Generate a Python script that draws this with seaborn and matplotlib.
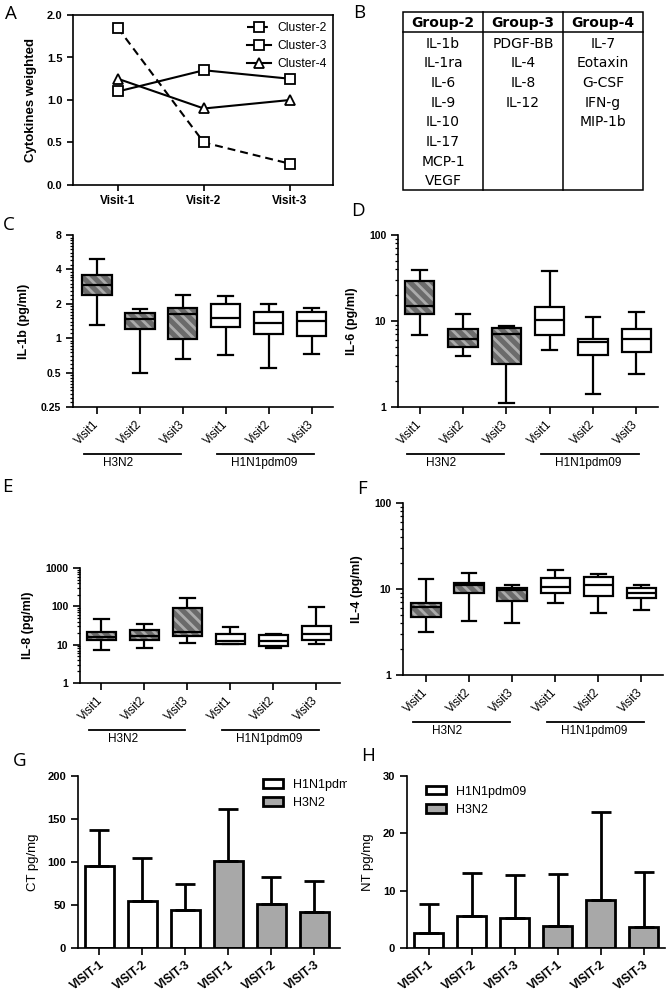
import numpy as np
import pandas as pd
import matplotlib
matplotlib.use("Agg")
import matplotlib.pyplot as plt
import matplotlib.ticker as mticker
from matplotlib.colors import to_rgba
from matplotlib.patches import Rectangle
from matplotlib.transforms import offset_copy, Bbox, TransformedBbox, ScaledTranslation
import seaborn as sns

# ---- panel A data
visits_a = ["Visit-1", "Visit-2", "Visit-3"]
cluster_names = ["Cluster-2", "Cluster-3", "Cluster-4"]
cluster2 = [1.85, 0.50, 0.25]
cluster3 = [1.10, 1.35, 1.25]
cluster4 = [1.25, 0.90, 1.00]

# ---- panel B table
group_names = ["Group-2", "Group-3", "Group-4"]
group2 = ["IL-1b", "IL-1ra", "IL-6", "IL-9", "IL-10", "IL-17", "MCP-1", "VEGF"]
group3 = ["PDGF-BB", "IL-4", "IL-8", "IL-12"]
group4 = ["IL-7", "Eotaxin", "G-CSF", "IFN-g", "MIP-1b"]

# ---- box plots (min, Q1, median, Q3, max) per box
strains = ["H3N2", "H1N1pdm09"]
box_strains = ["H3N2"] * 3 + ["H1N1pdm09"] * 3
visit_labels = ["Visit1", "Visit2", "Visit3", "Visit1", "Visit2", "Visit3"]
il1b = [[1.3, 2.4, 2.95, 3.6, 4.9], [0.5, 1.21, 1.46, 1.66, 1.79], [0.66, 0.99, 1.62, 1.85, 2.4],
        [0.72, 1.25, 1.51, 1.98, 2.35], [0.55, 1.08, 1.36, 1.69, 2.01], [0.73, 1.04, 1.41, 1.69, 1.82]]
il6 = [[6.8, 12.0, 14.9, 29.4, 39.0], [3.9, 5.0, 6.2, 8.0, 12.1], [1.11, 3.2, 7.0, 8.4, 8.7],
       [4.6, 6.8, 10.4, 14.6, 37.7], [1.43, 4.0, 5.7, 6.2, 11.2], [2.4, 4.4, 6.25, 8.0, 12.8]]
il8 = [[7.2, 12.9, 16.3, 21.4, 46.0], [8.1, 13.3, 17.2, 24.8, 34.0], [11.2, 16.8, 22.0, 88.0, 162.0],
       [10.3, 10.7, 12.8, 18.7, 29.7], [8.1, 9.1, 12.8, 17.5, 19.2], [10.7, 13.5, 19.2, 30.4, 94.0]]
il4 = [[3.2, 4.7, 6.1, 6.8, 13.2], [4.2, 9.0, 11.0, 11.9, 15.5], [4.0, 7.3, 9.7, 10.3, 11.2],
       [6.8, 9.0, 10.5, 13.3, 16.5], [5.3, 8.4, 11.2, 13.7, 14.9], [5.7, 7.9, 9.0, 10.3, 11.2]]

# ---- bar charts (mean, top of error bar)
bar_strains = ["H1N1pdm09"] * 3 + ["H3N2"] * 3
bar_labels = ["VISIT-1", "VISIT-2", "VISIT-3", "VISIT-1", "VISIT-2", "VISIT-3"]
ct_mean = [95, 55, 44, 101, 51, 42]
ct_top = [137, 105, 75, 162, 82, 78]
nt_mean = [2.7, 5.5, 5.2, 3.9, 8.3, 3.7]
nt_top = [7.7, 13.0, 12.7, 12.9, 23.7, 13.2]

DARK = "#6b6b6b"
HATCH = "#ababab"
BAR_GREY = "#a8a8a8"

plt.rcParams["font.family"] = ["Liberation Sans", "DejaVu Sans"]
plt.rcParams["hatch.linewidth"] = 2.0
plt.rcParams["axes.linewidth"] = 1.2

W, H = 671, 999
fig = plt.figure(figsize=(W / 100, H / 100), dpi=100)


def rect(l, t, r, b):
    return [l / W, 1 - b / H, (r - l) / W, (b - t) / H]


def letter(x, y, s):
    fig.text(x / W, 1 - y / H, s, ha="center", va="center", fontsize=13.5,
             family=["Open Sans", "DejaVu Sans"])


# ================= A
ax = fig.add_axes(rect(73, 15, 333, 185))
styles = [(0, (3.8, 2.4)), "-", "-"]
markers = ["s", "s", "^"]
for name, vals, ls, mk in zip(cluster_names, [cluster2, cluster3, cluster4], styles, markers):
    sns.lineplot(x=visits_a, y=vals, ax=ax, color="black", linestyle=ls, marker=mk,
                 markersize=7, markerfacecolor="white", markeredgecolor="black",
                 markeredgewidth=1.3, linewidth=1.5, label=name, sort=False)
ax.set_xlim(-0.52, 2.5)
ax.set_ylim(0, 2.0)
ax.set_yticks([0, 0.5, 1.0, 1.5, 2.0], ["0.0", "0.5", "1.0", "1.5", "2.0"], fontweight="bold")
ax.set_xticks([0, 1, 2], visits_a, fontweight="bold", fontsize=8.5)
ax.tick_params(direction="out", length=4, width=1.2, labelsize=8)
ax.tick_params(axis="x", labelsize=8.5)
ax.set_ylabel("Cytokines weighted", fontweight="bold", fontsize=9.5, labelpad=7)
ax.set_xlabel("")
ax.legend(handles=ax.get_lines()[:3], labels=cluster_names, frameon=False, loc="upper left",
          bbox_to_anchor=(0.645, 0.995), borderpad=0, fontsize=8.7, labelspacing=0.5,
          handlelength=2.0, handletextpad=0.5)
letter(11, 14, "A")

# ================= B
axb = fig.add_axes(rect(403, 12, 643, 190))
axb.set_xlim(0, 240)
axb.set_ylim(178, 0)
axb.axis("off")
axb.add_patch(Rectangle((0, 0), 240, 178, fill=False, lw=1.1, ec="black", clip_on=False))
axb.plot([0, 240], [20, 20], color="black", lw=1.1, clip_on=False)
for xc in [80, 160]:
    axb.plot([xc, xc], [0, 178], color="black", lw=1.1, clip_on=False)
for i, (gname, items) in enumerate(zip(group_names, [group2, group3, group4])):
    cx = 40 + 80 * i
    axb.text(cx, 11, gname, ha="center", va="center", fontsize=10, fontweight="bold",
             family="DejaVu Sans")
    for j, it in enumerate(items):
        axb.text(cx, 31.5 + 19.7 * j, it, ha="center", va="center", fontsize=10,
                 family="DejaVu Sans")
letter(359, 13, "B")


# ================= box panels
def box_panel(box, values, base, ylim, majors, major_labels, minors, ylabel, xlim):
    ax = fig.add_axes(rect(*box))
    keys = [f"{s} {v}" for s, v in zip(box_strains, visit_labels)]
    df = pd.DataFrame({
        "box": np.repeat(keys, 5),
        "strain": np.repeat(box_strains, 5),
        "value": np.concatenate(values),
    })
    sns.boxplot(data=df, x="box", y="value", hue="strain", order=keys, hue_order=strains,
                palette={"H3N2": DARK, "H1N1pdm09": "white"}, dodge=False, width=0.68,
                whis=(0, 100), linecolor="black", linewidth=1.6, saturation=1,
                log_scale=base, legend=False, ax=ax)
    for p in ax.patches:
        if p.get_facecolor()[0] < 0.9:
            p.set_hatch("\\\\\\")
            if hasattr(p, "set_hatchcolor"):
                p.set_hatchcolor(HATCH)
            else:
                p._hatch_color = to_rgba(HATCH)
    ax.set_ylim(*ylim)
    ax.set_xlim(*xlim)
    ax.yaxis.set_major_locator(mticker.FixedLocator(majors))
    ax.yaxis.set_minor_locator(mticker.FixedLocator(minors))
    ax.yaxis.set_minor_formatter(mticker.NullFormatter())
    ax.set_yticks(majors, major_labels, fontweight="bold", fontsize=7.5)
    ax.set_xticks(range(6), visit_labels, rotation=45, ha="right", va="center",
                  rotation_mode="anchor", fontsize=8.5)
    ax.tick_params(axis="both", which="major", direction="out", length=5, width=1.2)
    ax.tick_params(axis="y", which="minor", direction="out", length=2.5, width=0.9)
    ax.tick_params(axis="x", pad=6)
    sns.despine(ax=ax)
    ax.set_xlabel("")
    ax.set_ylabel(ylabel, fontweight="bold", fontsize=9, labelpad=8)
    # group underlines below the tick labels
    tr_line = offset_copy(ax.get_xaxis_transform(), fig=fig, x=0, y=-47, units="dots")
    tr_text = offset_copy(ax.get_xaxis_transform(), fig=fig, x=0, y=-50, units="dots")
    for (x0, x1, xt), s in zip([(-0.3, 1.95, 0.5), (2.8, 5.05, 3.9)], strains):
        ax.plot([x0, x1], [0, 0], transform=tr_line, color="black", lw=1.3, clip_on=False)
        ax.text(xt, 0, s, transform=tr_text, ha="center", va="top", fontsize=8.5)
    return ax


log2_minor = [m * 2.0 ** k for k in range(-2, 3) for m in np.arange(1.1, 2.0, 0.1)]
log10_minor = [m * 10.0 ** k for k in range(0, 3) for m in range(2, 10)]

box_panel((73, 235, 333, 407), il1b, 2, (0.25, 8), [0.25, 0.5, 1, 2, 4, 8],
          ["0.25", "0.5", "1", "2", "4", "8"], log2_minor, "IL-1b (pg/ml)", (-0.56, 5.5))
letter(9, 225, "C")
box_panel((398, 235, 658, 407), il6, 10, (1, 100), [1, 10, 100], ["1", "10", "100"],
          log10_minor, "IL-6 (pg/ml)", (-0.5, 5.5))
letter(358, 211, "D")
box_panel((80, 568, 340, 683), il8, 10, (1, 1000), [1, 10, 100, 1000],
          ["1", "10", "100", "1000"], log10_minor, "IL-8 (pg/ml)", (-0.5, 5.55))
letter(7, 487, "E")
box_panel((403, 503, 663, 675), il4, 10, (1, 100), [1, 10, 100], ["1", "10", "100"],
          log10_minor, "IL-4 (pg/ml)", (-0.53, 5.5))
letter(362, 489, "F")


# ================= bar panels
def bar_panel(box, means, tops, ylim, yticks, ylabel, xlim, anchor, clip_right=None):
    ax = fig.add_axes(rect(*box))
    keys = [f"{s} {v}" for s, v in zip(bar_strains, bar_labels)]
    sns.barplot(x=keys, y=means, hue=bar_strains, hue_order=["H1N1pdm09", "H3N2"],
                palette={"H1N1pdm09": "white", "H3N2": BAR_GREY}, dodge=False, width=0.67,
                edgecolor="black", linewidth=2, saturation=1, ax=ax)
    err = np.array(tops) - np.array(means)
    ax.errorbar(range(6), means, yerr=[np.zeros(6), err], fmt="none", ecolor="black",
                elinewidth=2, capsize=7, capthick=2, zorder=3)
    ax.set_ylim(*ylim)
    ax.set_xlim(*xlim)
    ax.set_yticks(yticks, [str(t) for t in yticks], fontweight="bold", fontsize=8)
    ax.set_xticks(range(6), bar_labels, rotation=38, ha="right", va="top",
                  rotation_mode="anchor", fontweight="bold", fontsize=8.5)
    shift = ScaledTranslation(9 / 100, 0, fig.dpi_scale_trans)
    for lbl in ax.get_xticklabels():
        lbl.set_transform(lbl.get_transform() + shift)
    ax.tick_params(direction="out", length=5, width=1.2)
    ax.tick_params(axis="x", pad=3)
    sns.despine(ax=ax)
    ax.set_ylabel(ylabel, fontsize=9.5, labelpad=6)
    handles, labels = ax.get_legend_handles_labels()
    leg = ax.legend(handles, labels, frameon=False, loc="upper left", bbox_to_anchor=anchor,
                    borderpad=0, fontsize=9, handlelength=1.6, handleheight=0.65,
                    handletextpad=0.8, labelspacing=0.5)
    if clip_right is not None:
        cb = TransformedBbox(Bbox([[0, 0], [clip_right / W, 1]]), fig.transFigure)
        for t in leg.get_texts():
            t.set_clip_box(cb)
            t.set_clip_on(True)
    return ax


bar_panel((78, 776, 340, 948), ct_mean, ct_top, (0, 200), [0, 50, 100, 150, 200],
          "CT pg/mg", (-0.5, 5.6), (0.683, 1.02), clip_right=347)
letter(20, 761, "G")
bar_panel((407, 776, 665, 948), nt_mean, nt_top, (0, 30), [0, 10, 20, 30],
          "NT pg/mg", (-0.5, 5.5), (0.05, 0.98))
letter(368, 756, "H")

fig.savefig("out.png", dpi=100)
